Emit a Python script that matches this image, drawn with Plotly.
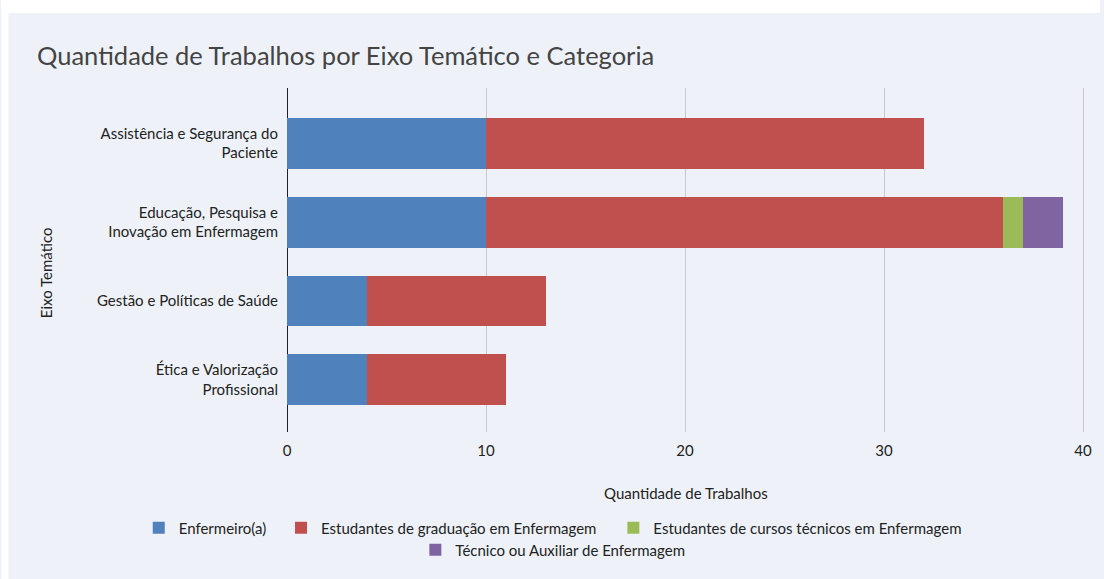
import plotly.graph_objects as go

categories = [
    "Assistência e Segurança do<br>Paciente",
    "Educação, Pesquisa e<br>Inovação em Enfermagem",
    "Gestão e Políticas de Saúde",
    "Ética e Valorização<br>Profissional",
]
series_names = [
    "Enfermeiro(a)",
    "Estudantes de graduação em Enfermagem",
    "Estudantes de cursos técnicos em Enfermagem",
    "Técnico ou Auxiliar de Enfermagem",
]
enfermeiro = [10, 10, 4, 4]
graduacao = [22, 26, 9, 7]
tecnicos_cursos = [0, 1, 0, 0]
tecnico_auxiliar = [0, 2, 0, 0]
x_ticks = [0, 10, 20, 30, 40]

colors = ["#4f81bd", "#c0504d", "#9bbb59", "#8064a2"]
values = [enfermeiro, graduacao, tecnicos_cursos, tecnico_auxiliar]
legend_ids = ["legend", "legend2", "legend3", "legend4"]
# legend box left edge / row centre, in page pixels
legend_px = [(138, 528), (281, 528), (615, 528), (416, 550)]

W, H = 1104, 579
L, R, T, B = 287, 1090, 88, 432
FONT = "Lato"
BG = "#eef2f8"
TXT = "#222222"

def px_x(px):
    return (px - L) / (R - L)

def px_y(py):
    return (B - py) / (B - T)

fig = go.Figure()
for name, vals, c, lg in zip(series_names, values, colors, legend_ids):
    fig.add_trace(go.Bar(
        y=categories, x=vals, name=name, orientation="h",
        marker=dict(color=c, line=dict(width=0)),
        legend=lg,
    ))

legend_layouts = {}
for lg, (lx, ly) in zip(legend_ids, legend_px):
    legend_layouts[lg] = dict(
        orientation="h", x=px_x(lx), xanchor="left",
        y=px_y(ly), yanchor="middle", bgcolor="rgba(0,0,0,0)",
        borderwidth=0,
        font=dict(family=FONT, size=15, color=TXT),
    )

fig.update_layout(
    width=W, height=H,
    barmode="stack",
    bargap=0.355,
    paper_bgcolor=BG,
    plot_bgcolor=BG,
    margin=dict(l=L, r=W - R, t=T, b=H - B, pad=0),
    font=dict(family=FONT, size=15, color=TXT),
    title=dict(
        text="Quantidade de Trabalhos por Eixo Temático e Categoria",
        x=37 / W, xanchor="left", xref="container",
        y=1 - 56 / H, yanchor="middle", yref="container",
        font=dict(family=FONT, size=25.5, color="#444444"),
    ),
    xaxis=dict(
        range=[0, 40.15],
        tickvals=x_ticks,
        showgrid=True, gridcolor="#c8c8c8", gridwidth=1,
        zeroline=True, zerolinecolor=TXT, zerolinewidth=1,
        showline=False,
        tickfont=dict(family=FONT, size=15, color=TXT),
        ticklabelstandoff=8,
    ),
    yaxis=dict(
        categoryorder="array", categoryarray=categories,
        range=[3.66, -0.70],
        showgrid=False, zeroline=False, showline=False,
        tickfont=dict(family=FONT, size=15, color=TXT),
        ticklabelstandoff=8,
    ),
    showlegend=True,
    annotations=[
        dict(text="Eixo Temático", textangle=-90, showarrow=False,
             xref="paper", yref="paper", x=px_x(45), y=px_y(273),
             xanchor="center", yanchor="middle",
             font=dict(family=FONT, size=15, color=TXT)),
        dict(text="Quantidade de Trabalhos", showarrow=False,
             xref="paper", yref="paper", x=px_x(688), y=px_y(493),
             xanchor="center", yanchor="middle",
             font=dict(family=FONT, size=15, color=TXT)),
    ],
    shapes=[
        dict(type="rect", xref="paper", yref="paper",
             x0=px_x(0), x1=px_x(W), y0=px_y(13), y1=px_y(0),
             fillcolor="white", line=dict(width=0), layer="above"),
        dict(type="rect", xref="paper", yref="paper",
             x0=px_x(0), x1=px_x(7), y0=px_y(H), y1=px_y(0),
             fillcolor="white", line=dict(width=0), layer="above"),
    ],
    **legend_layouts,
)

fig.write_html(
    "out.html",
    config={"displayModeBar": False},
    post_script="document.body.style.margin='0';document.body.style.overflow='hidden';",
)
